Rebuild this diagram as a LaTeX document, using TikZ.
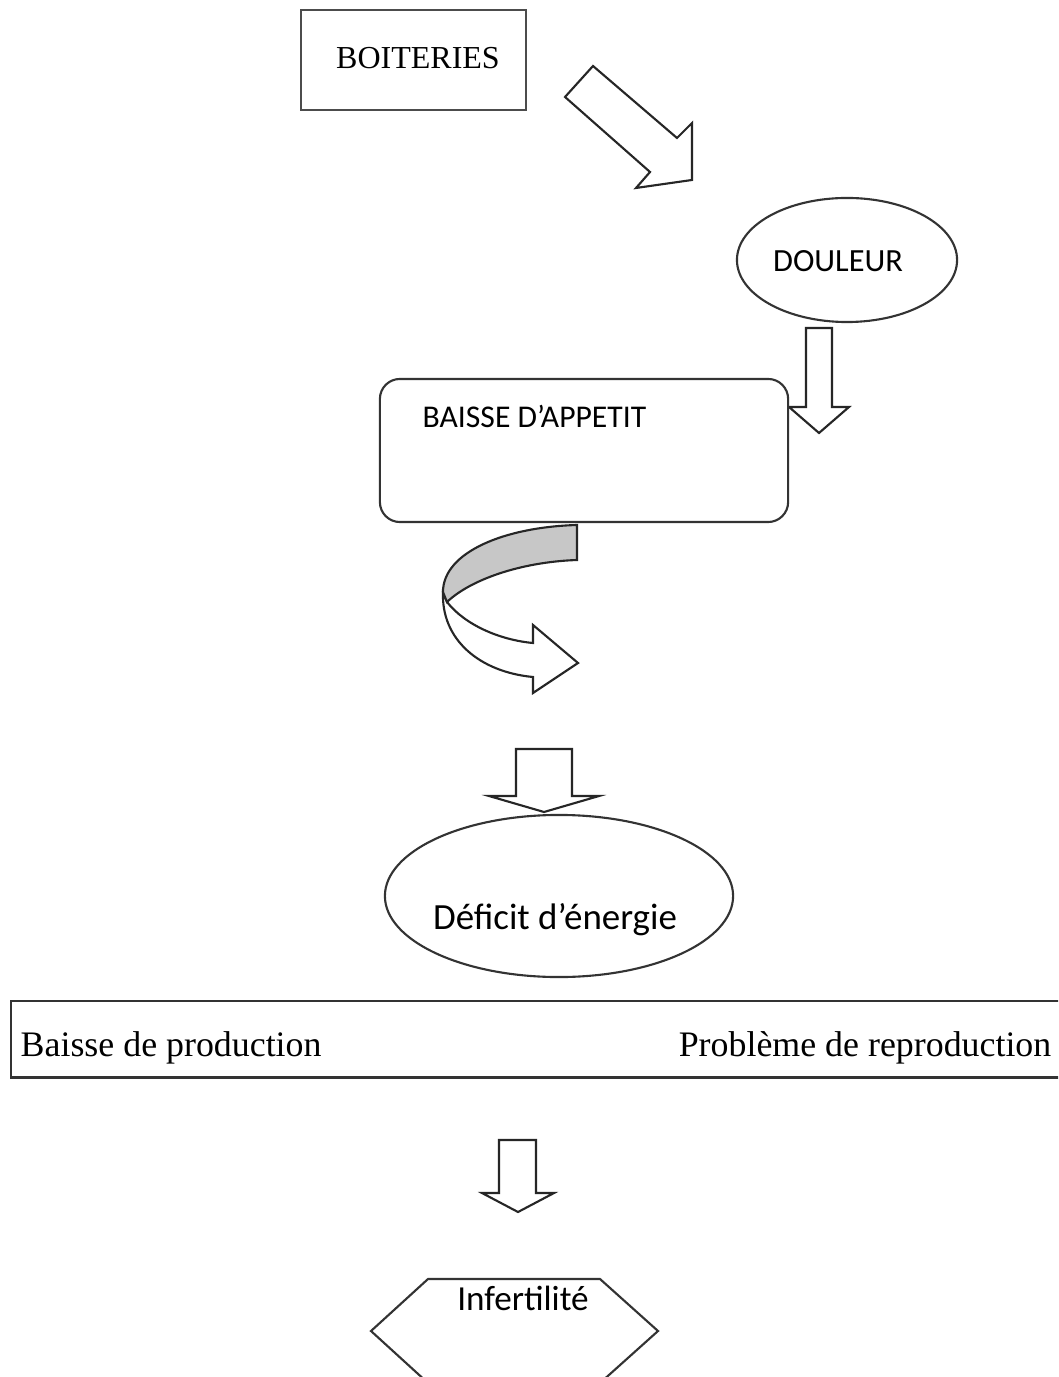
\documentclass[tikz,border=0pt]{standalone}
\usepackage{fontspec}
\setmainfont{Liberation Serif}
\newfontfamily\calib{Carlito}
\usetikzlibrary{shapes.geometric,positioning}
\tikzset{
  box/.style={draw=black!80,line width=0.6pt,fill=white,inner sep=0pt},
  blockarrow/.style={draw=black!85,line width=0.6pt,fill=white,line join=miter},
  calibtext/.style={inner sep=0pt,font=\calib\fontsize{9}{11}\selectfont},
  serftext/.style={inner sep=0pt,font=\fontsize{10.2}{12}\selectfont}
}
\begin{document}
\begin{tikzpicture}[x=0.01cm,y=-0.01cm]
  \clip (0,0) rectangle (1058,1377);
  \fill[white] (0,0) rectangle (1058,1377);
  % boiteries
  \node[box,line width=0.75pt,draw=black!70,minimum width=2.25cm,minimum height=1cm] (boit) at (413.5,60) {};
  \node[inner sep=0pt,font=\fontsize{9.1}{11}\selectfont] (boittxt) at (418,58) {BOITERIES};
  \draw[blockarrow] (565,97) -- (593,66) -- (677,138) -- (692,123) -- (692,180) -- (636,188) -- (650,172) -- cycle;
  % douleur
  \node[box,ellipse,minimum width=2.2cm,minimum height=1.24cm] (doul) at (847,260) {};
  \node[calibtext,font=\calib\fontsize{9.2}{11}\selectfont] (doultxt) at (838,261) {DOULEUR};
  \draw[blockarrow] (806,328) -- (832,328) -- (832,407) -- (849,407) -- (819,433) -- (789,407) -- (806,407) -- cycle;
  % appetit
  \node[box,rounded corners=0.2cm,minimum width=4.08cm,minimum height=1.43cm] (app) at (584,450.5) {};
  \node[calibtext,anchor=base west] (apptxt) at (422,428) {BAISSE D’APPETIT};
  % curved arrow
  \draw[blockarrow] (447,602) .. controls (465,625) and (500,640) .. (533,643)
    -- (533,625) -- (578,663) -- (533,693) -- (533,677)
    .. controls (480,672) and (441,640) .. (443,592) -- cycle;
  \draw[blockarrow,fill=black!22] (577,525) -- (577,560)
    .. controls (520,562) and (470,580) .. (447,602)
    -- (443,592) .. controls (443,552) and (505,527) .. (577,525) -- cycle;
  % deficit
  \draw[blockarrow] (516,749) -- (572,749) -- (572,796) -- (599,796) -- (544,812) -- (489,796) -- (516,796) -- cycle;
  \node[box,ellipse,minimum width=3.48cm,minimum height=1.62cm] (defic) at (559,896) {};
  \node[calibtext,font=\calib\fontsize{10.5}{12}\selectfont] (defictxt) at (555,920) {Déficit d’énergie};
  % consequences
  \node[box,line width=0.7pt,anchor=north west,minimum width=10.8cm,minimum height=0.76cm] (cons) at (10,1000) {};
  \node[serftext,anchor=base west] (prod) at (20,1056) {Baisse de production};
  \node[serftext,anchor=base east] (repro) at (1052,1056) {Problème de reproduction};
  % infertilite
  \draw[blockarrow] (499,1140) -- (536,1140) -- (536,1193) -- (554,1193) -- (518,1212) -- (482,1193) -- (499,1193) -- cycle;
  \draw[box] (428,1279) -- (600,1279) -- (658,1331) -- (600,1383) -- (428,1383) -- (371,1331) -- cycle;
  \node[calibtext,font=\calib\fontsize{10}{12}\selectfont] (infert) at (523,1298) {Infertilité};
\end{tikzpicture}
\end{document}
